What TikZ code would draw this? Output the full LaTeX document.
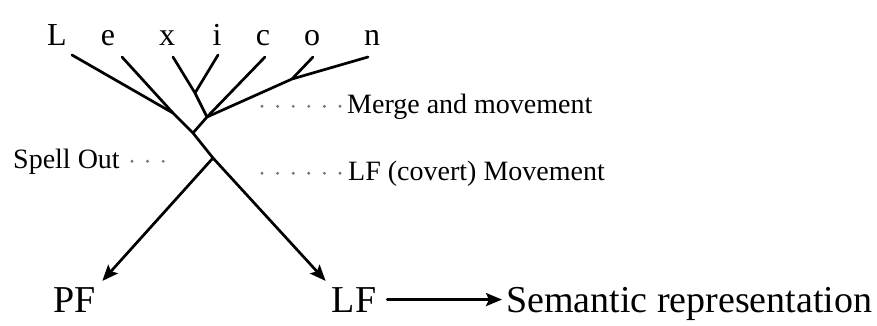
\documentclass[tikz,border=0pt]{standalone}
\usepackage{fontspec}
\setmainfont{Liberation Serif}
\usetikzlibrary{arrows.meta,positioning}

\begin{document}
\begin{tikzpicture}[x=1pt,y=-1pt,
    branch/.style={line width=2.7pt,line cap=round,line join=round},
    derive/.style={branch,-{Stealth[length=16pt,width=13pt,inset=3pt]}},
    leader/.style={line width=3.2pt,line cap=round,black!55,dash pattern=on 0pt off 15.6pt},
    letter/.style={anchor=base,inner sep=0pt,font=\fontsize{32}{32}\selectfont},
    tag/.style={inner sep=0pt,font=\fontsize{28}{28}\selectfont},
    level/.style={inner sep=6pt,font=\fontsize{38}{38}\selectfont}]
  \useasboundingbox (0,0) rectangle (877,325);

  % the lexicon, one letter per item
  \foreach \nm/\x in {L/57,e/108,x/167,i/217,c/263,o/312,n/372}
    \node[letter] (lex-\nm) at (\x,45) {\nm};
  \foreach \nm/\x/\y in {L/72/55,e/122/57,x/173/57,i/218/55,c/265/57,o/313/57,n/368/57}
    \coordinate (\nm0) at (\x,\y);

  % junctions of the tree
  \coordinate (jLe) at (173,113);
  \coordinate (jxi) at (195,93);
  \coordinate (jon) at (292,79);
  \coordinate (jR)  at (207,117);
  \coordinate (jM)  at (193,133);
  \coordinate (jS)  at (213,158);

  % levels
  \node[level,anchor=base] (pf) at (75,312) {PF};
  \node[level,anchor=base] (lf) at (354,312) {LF};
  \node[level,anchor=base west,inner sep=4pt] (sem) at (502,312) {Semantic representation};

  % side labels
  \node[tag,anchor=base west] (merge) at (347,113) {Merge and movement};
  \node[tag,anchor=base west] (covert) at (348,180) {LF (covert) Movement};
  \node[tag,anchor=base west] (spell) at (13,168) {Spell Out};

  % branches
  \draw[branch] (L0) -- (jLe) -- (jM) -- (jS);
  \draw[branch] (e0) -- (jLe);
  \draw[branch] (x0) -- (jxi) -- (jR);
  \draw[branch] (i0) -- (jxi);
  \draw[branch] (c0) -- (jR);
  \draw[branch] (n0) -- (jon) -- (jR) -- (jM);
  \draw[branch] (o0) -- (jon);
  \draw[derive] (jS) -- (pf.north east);
  \draw[derive] (jS) -- (lf.north west);
  \draw[derive,line width=2.8pt] ([xshift=5pt]lf.east) -- (lf.east -| sem.west);

  % dotted leaders
  \draw[leader] ([xshift=-85pt]merge.west) -- (merge.west);
  \draw[leader] ([xshift=-86pt]covert.west) -- (covert.west);
  \draw[leader] ([xshift=12pt]spell.east) -- ++(32,0);
\end{tikzpicture}
\end{document}
